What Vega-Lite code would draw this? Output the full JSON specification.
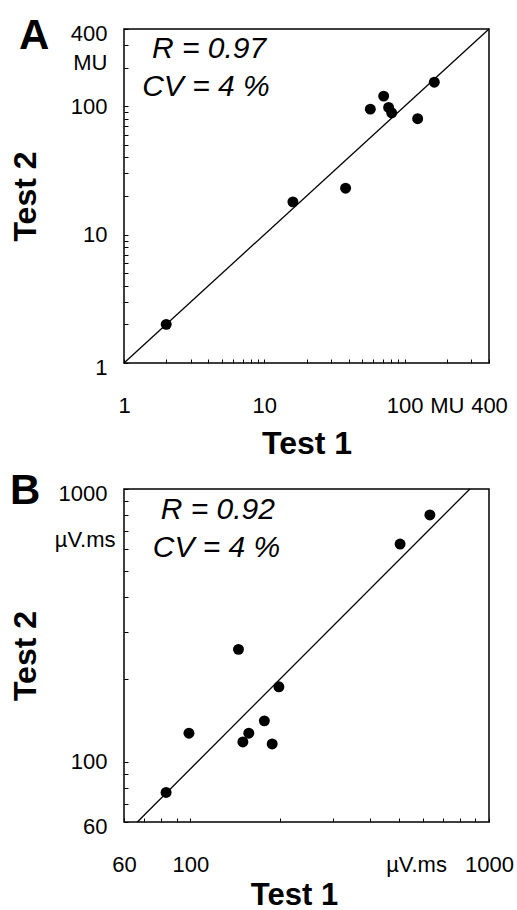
{
  "$schema": "https://vega.github.io/schema/vega-lite/v6.json",
  "background": "white",
  "padding": {"left": 8, "top": 14, "right": 5, "bottom": 0},
  "datasets": {
    "ptsA": [
      {"t1": 2, "t2": 2},
      {"t1": 16, "t2": 18},
      {"t1": 38, "t2": 23},
      {"t1": 57, "t2": 95},
      {"t1": 71, "t2": 120},
      {"t1": 77, "t2": 98},
      {"t1": 81, "t2": 89},
      {"t1": 124, "t2": 80},
      {"t1": 163, "t2": 154}
    ],
    "lineA": [{"t1": 1, "t2": 1}, {"t1": 400, "t2": 400}],
    "txtA": [
      {"t1": 4.04, "t2": 279, "label": "R = 0.97"},
      {"t1": 3.84, "t2": 141, "label": "CV = 4 %"}
    ],
    "ptsB": [
      {"t1": 83, "t2": 77},
      {"t1": 99, "t2": 127},
      {"t1": 145, "t2": 258},
      {"t1": 150, "t2": 118},
      {"t1": 157, "t2": 127},
      {"t1": 177, "t2": 141},
      {"t1": 188, "t2": 116},
      {"t1": 198, "t2": 188},
      {"t1": 504, "t2": 628},
      {"t1": 634, "t2": 803}
    ],
    "lineB": [{"t1": 66.5, "t2": 60}, {"t1": 863, "t2": 1000}],
    "txtB": [
      {"t1": 123.6, "t2": 837, "label": "R = 0.92"},
      {"t1": 122.4, "t2": 607, "label": "CV = 4 %"}
    ]
  },
  "bounds": "flush",
  "spacing": 126,
  "vconcat": [
    {
      "title": {"text": "A", "dx": -105, "dy": 40},
      "width": 365,
      "height": 334,
      "encoding": {
        "x": {
          "field": "t1", "type": "quantitative",
          "scale": {"type": "log", "domain": [1, 400], "nice": false, "zero": false},
          "axis": {
            "title": "Test 1",
            "titleBaseline": "alphabetic",
            "titleY": 90,
            "values": [1, 2, 3, 4, 5, 6, 7, 8, 9, 10, 20, 30, 40, 50, 60, 70, 80, 90, 100, 200, 300, 400],
            "labelExpr": "datum.value==1?'1':datum.value==10?'10':datum.value==100?'100':datum.value==200?'MU':datum.value==400?'400':''"
          }
        },
        "y": {
          "field": "t2", "type": "quantitative",
          "scale": {"type": "log", "domain": [1, 400], "nice": false, "zero": false},
          "axis": {
            "title": "Test 2",
            "titleBaseline": "alphabetic",
            "titleX": -89,
            "values": [1, 2, 3, 4, 5, 6, 7, 8, 9, 10, 20, 30, 40, 50, 60, 70, 80, 90, 100, 200, 300, 400, 220],
            "labelExpr": "datum.value==1?'1':datum.value==10?'10':datum.value==100?'100':datum.value==220?'MU':datum.value==400?'400':''",
            "labelOffset": {"condition": {"test": "datum.value==1||datum.value==400", "value": 4}, "value": 0},
            "tickOpacity": {"condition": {"test": "datum.value==220", "value": 0}, "value": 1}
          }
        }
      },
      "layer": [
        {"data": {"name": "lineA"}, "mark": {"type": "line", "color": "black", "strokeWidth": 1.3}, "encoding": {}},
        {"data": {"name": "ptsA"}, "mark": {"type": "circle", "color": "black", "size": 120, "opacity": 1}},
        {"data": {"name": "txtA"}, "mark": {"type": "text", "font": "Liberation Sans", "fontStyle": "italic", "fontSize": 30, "align": "center", "baseline": "middle", "color": "black"},
         "encoding": {"text": {"field": "label"}}}
      ]
    },
    {
      "title": {"text": "B", "dx": -114, "dy": 35},
      "width": 365,
      "height": 333,
      "encoding": {
        "x": {
          "field": "t1", "type": "quantitative",
          "scale": {"type": "log", "domain": [60, 1000], "nice": false, "zero": false},
          "axis": {
            "title": "Test 1",
            "titleBaseline": "alphabetic",
            "titleFontSize": 31,
            "titleY": 82,
            "titleX": 170,
            "values": [60, 70, 80, 90, 100, 200, 300, 400, 500, 600, 700, 800, 900, 1000, 570],
            "labelExpr": "datum.value==60?'60':datum.value==100?'100':datum.value==570?'µV.ms':datum.value==1000?'1000':''",
            "tickOpacity": {"condition": {"test": "datum.value==570", "value": 0}, "value": 1}
          }
        },
        "y": {
          "field": "t2", "type": "quantitative",
          "scale": {"type": "log", "domain": [60, 1000], "nice": false, "zero": false},
          "axis": {
            "title": "Test 2",
            "titleBaseline": "alphabetic",
            "titleX": -89,
            "values": [60, 70, 80, 90, 100, 200, 300, 400, 500, 600, 700, 800, 900, 1000, 650],
            "labelExpr": "datum.value==60?'60':datum.value==100?'100':datum.value==650?'µV.ms':datum.value==1000?'1000':''",
            "labelOffset": {"condition": {"test": "datum.value==60||datum.value==1000", "value": 4}, "value": 0},
            "labelPadding": {"condition": {"test": "datum.value==650", "value": 13}, "value": 21},
            "tickOpacity": {"condition": {"test": "datum.value==650", "value": 0}, "value": 1}
          }
        }
      },
      "layer": [
        {"data": {"name": "lineB"}, "mark": {"type": "line", "color": "black", "strokeWidth": 1.3}, "encoding": {}},
        {"data": {"name": "ptsB"}, "mark": {"type": "circle", "color": "black", "size": 120, "opacity": 1}},
        {"data": {"name": "txtB"}, "mark": {"type": "text", "font": "Liberation Sans", "fontStyle": "italic", "fontSize": 30, "align": "center", "baseline": "middle", "color": "black"},
         "encoding": {"text": {"field": "label"}}}
      ]
    }
  ],
  "config": {
    "view": {"stroke": "black", "strokeWidth": 1.5},
    "axis": {
      "grid": false, "domain": false,
      "tickColor": "black", "tickSize": -4, "tickWidth": 1,
      "labelFont": "Liberation Sans", "labelFontSize": 22, "labelColor": "black",
      "labelOverlap": false, "labelFlush": false,
      "titleFont": "Liberation Sans", "titleFontSize": 32, "titleFontWeight": "bold", "titleColor": "black"
    },
    "axisX": {"labelPadding": 36},
    "axisY": {"labelPadding": 21},
    "title": {"font": "Liberation Sans", "fontSize": 42, "fontWeight": "bold", "color": "black", "anchor": "start", "frame": "group", "offset": 0, "baseline": "alphabetic"}
  }
}
